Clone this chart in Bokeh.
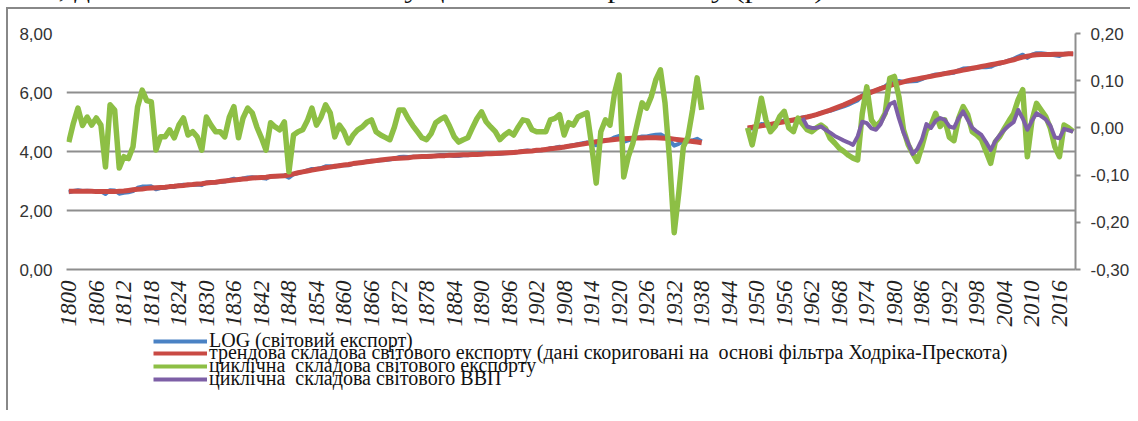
import math
from bokeh.plotting import figure
from bokeh.models import (Range1d, LinearAxis, FixedTicker, CustomJSTickFormatter,
                          Legend, LegendItem, Div)
from bokeh.layouts import column
from bokeh.embed import file_html
from bokeh.resources import INLINE

# ---------------- data ----------------
YEARS_A = list(range(1800, 1939))   # first period 1800-1938
YEARS_B = list(range(1948, 2020))   # second period 1948-2019
YEARS_GDP = list(range(1960, 2020))

TREND_A = [
    2.65, 2.65, 2.65, 2.65, 2.65, 2.65, 2.64, 2.64, 2.64, 2.64,
    2.64, 2.65, 2.66, 2.68, 2.70, 2.72, 2.73, 2.75, 2.76, 2.77,
    2.78, 2.79, 2.81, 2.82, 2.84, 2.85, 2.87, 2.88, 2.90, 2.91,
    2.93, 2.95, 2.96, 2.98, 3.00, 3.02, 3.03, 3.05, 3.07, 3.08,
    3.10, 3.11, 3.12, 3.13, 3.15, 3.16, 3.17, 3.18, 3.20, 3.24,
    3.28, 3.31, 3.34, 3.37, 3.40, 3.42, 3.45, 3.47, 3.50, 3.52,
    3.54, 3.56, 3.59, 3.61, 3.63, 3.65, 3.67, 3.69, 3.71, 3.73,
    3.75, 3.76, 3.77, 3.78, 3.79, 3.81, 3.82, 3.83, 3.83, 3.84,
    3.85, 3.86, 3.86, 3.87, 3.87, 3.88, 3.89, 3.89, 3.90, 3.90,
    3.91, 3.92, 3.92, 3.93, 3.94, 3.95, 3.96, 3.97, 3.98, 4.00,
    4.01, 4.02, 4.04, 4.05, 4.07, 4.09, 4.11, 4.13, 4.15, 4.18,
    4.20, 4.23, 4.25, 4.28, 4.30, 4.33, 4.35, 4.37, 4.39, 4.41,
    4.42, 4.43, 4.44, 4.45, 4.46, 4.46, 4.47, 4.47, 4.47, 4.46,
    4.45, 4.44, 4.42, 4.40, 4.38, 4.36, 4.34, 4.32, 4.30,
]
LOG_A = [
    2.62, 2.66, 2.69, 2.66, 2.67, 2.66, 2.66, 2.65, 2.56, 2.69,
    2.68, 2.57, 2.60, 2.62, 2.66, 2.77, 2.81, 2.81, 2.82, 2.72,
    2.76, 2.77, 2.81, 2.80, 2.85, 2.87, 2.86, 2.87, 2.88, 2.86,
    2.95, 2.96, 2.95, 2.97, 2.98, 3.04, 3.08, 3.03, 3.09, 3.12,
    3.13, 3.11, 3.10, 3.08, 3.16, 3.16, 3.17, 3.19, 3.11, 3.23,
    3.27, 3.31, 3.36, 3.41, 3.41, 3.44, 3.50, 3.50, 3.48, 3.53,
    3.53, 3.53, 3.58, 3.61, 3.63, 3.66, 3.69, 3.68, 3.70, 3.71,
    3.73, 3.76, 3.81, 3.82, 3.81, 3.82, 3.81, 3.81, 3.81, 3.83,
    3.86, 3.88, 3.88, 3.87, 3.85, 3.85, 3.87, 3.87, 3.90, 3.92,
    3.94, 3.93, 3.92, 3.92, 3.92, 3.94, 3.95, 3.96, 3.98, 4.02,
    4.03, 4.02, 4.03, 4.04, 4.06, 4.11, 4.13, 4.16, 4.14, 4.19,
    4.21, 4.25, 4.28, 4.31, 4.26, 4.21, 4.34, 4.39, 4.40, 4.48,
    4.53, 4.33, 4.38, 4.42, 4.47, 4.51, 4.51, 4.54, 4.57, 4.58,
    4.50, 4.37, 4.20, 4.26, 4.34, 4.34, 4.38, 4.43, 4.34,
]
CYCLE_EXP_A = [
    -0.030, 0.010, 0.042, 0.005, 0.023, 0.006, 0.021, 0.006, -0.083, 0.049,
    0.038, -0.085, -0.061, -0.065, -0.040, 0.045, 0.080, 0.058, 0.055, -0.047,
    -0.019, -0.019, -0.004, -0.021, 0.006, 0.021, -0.015, -0.008, -0.019, -0.047,
    0.023, 0.006, -0.008, -0.008, -0.019, 0.023, 0.045, -0.021, 0.021, 0.042,
    0.032, 0.002, -0.021, -0.047, 0.011, 0.002, -0.004, 0.013, -0.093, -0.015,
    -0.008, -0.004, 0.015, 0.042, 0.006, 0.023, 0.049, 0.032, -0.019, 0.006,
    -0.008, -0.032, -0.015, -0.004, 0.002, 0.012, 0.017, -0.008, -0.015, -0.020,
    -0.025, 0.002, 0.038, 0.038, 0.020, 0.005, -0.008, -0.021, -0.025, -0.012,
    0.011, 0.018, 0.023, 0.004, -0.018, -0.030, -0.025, -0.021, 0.000, 0.020,
    0.034, 0.013, 0.002, -0.008, -0.025, -0.015, -0.008, -0.015, 0.002, 0.017,
    0.015, -0.004, -0.008, -0.008, -0.008, 0.017, 0.020, 0.028, -0.015, 0.011,
    0.006, 0.023, 0.028, 0.032, -0.036, -0.117, -0.008, 0.017, 0.006, 0.074,
    0.112, -0.104, -0.061, -0.032, 0.011, 0.053, 0.042, 0.066, 0.102, 0.123,
    0.053, -0.068, -0.222, -0.138, -0.040, -0.019, 0.038, 0.106, 0.038,
]
TREND_B = [
    4.80, 4.82, 4.85, 4.87, 4.90, 4.92, 4.95, 4.98, 5.01, 5.04,
    5.07, 5.10, 5.14, 5.17, 5.21, 5.25, 5.30, 5.35, 5.40, 5.46,
    5.52, 5.58, 5.65, 5.72, 5.80, 5.87, 5.94, 6.01, 6.07, 6.13,
    6.18, 6.23, 6.28, 6.32, 6.36, 6.40, 6.43, 6.46, 6.49, 6.52,
    6.55, 6.58, 6.61, 6.64, 6.67, 6.70, 6.73, 6.76, 6.79, 6.82,
    6.85, 6.88, 6.91, 6.94, 6.97, 7.00, 7.03, 7.07, 7.11, 7.16,
    7.20, 7.23, 7.26, 7.28, 7.29, 7.29, 7.29, 7.30, 7.30, 7.30,
    7.31, 7.31,
]
LOG_B = [
    4.80, 4.78, 4.86, 4.93, 4.92, 4.91, 4.95, 5.00, 5.05, 5.04,
    5.06, 5.12, 5.15, 5.17, 5.20, 5.25, 5.31, 5.35, 5.38, 5.43,
    5.48, 5.53, 5.59, 5.66, 5.73, 5.90, 6.03, 6.03, 6.07, 6.14,
    6.21, 6.34, 6.39, 6.39, 6.36, 6.37, 6.38, 6.39, 6.45, 6.52,
    6.56, 6.61, 6.61, 6.66, 6.65, 6.67, 6.75, 6.81, 6.82, 6.81,
    6.84, 6.86, 6.86, 6.87, 6.94, 6.98, 7.03, 7.09, 7.14, 7.22,
    7.28, 7.17, 7.28, 7.33, 7.33, 7.31, 7.29, 7.26, 7.24, 7.31,
    7.31, 7.30,
]
CYCLE_EXP_B = [
    0.000, -0.036, 0.010, 0.063, 0.017, -0.008, 0.003, 0.024, 0.035, 0.000,
    -0.008, 0.021, 0.008, -0.004, -0.008, 0.000, 0.006, -0.001, -0.022, -0.032,
    -0.043, -0.050, -0.058, -0.064, -0.068, 0.030, 0.087, 0.017, 0.003, 0.013,
    0.031, 0.105, 0.109, 0.066, -0.004, -0.035, -0.054, -0.071, -0.040, -0.004,
    0.006, 0.031, 0.003, 0.017, -0.020, -0.027, 0.020, 0.045, 0.028, -0.008,
    -0.015, -0.025, -0.050, -0.075, -0.030, -0.018, -0.001, 0.015, 0.030, 0.060,
    0.081, -0.061, 0.015, 0.052, 0.038, 0.024, 0.000, -0.040, -0.061, 0.006,
    0.000, -0.008,
]
CYCLE_GDP = [
    0.021, 0.003, 0.000, 0.000, 0.003, -0.004, -0.010, -0.017, -0.022, -0.027,
    -0.031, -0.036, -0.018, 0.013, 0.010, -0.001, -0.004, 0.008, 0.030, 0.050,
    0.055, 0.020, -0.010, -0.032, -0.055, -0.045, -0.025, 0.008, 0.000, 0.015,
    0.021, 0.017, 0.003, 0.000, 0.020, 0.035, 0.017, 0.000, -0.008, -0.015,
    -0.030, -0.047, -0.028, -0.015, -0.004, 0.005, 0.012, 0.038, 0.020, -0.004,
    0.015, 0.031, 0.025, 0.018, 0.005, -0.020, -0.022, -0.002, -0.005, -0.008,
]

X_TICKS = [1800, 1806, 1812, 1818, 1824, 1830, 1836, 1842, 1848, 1854, 1860,
           1866, 1872, 1878, 1884, 1890, 1896, 1902, 1908, 1914, 1920, 1926,
           1932, 1938, 1944, 1950, 1956, 1962, 1968, 1974, 1980, 1986, 1992,
           1998, 2004, 2010, 2016]
LEFT_TICKS = [0, 2, 4, 6, 8]
RIGHT_TICKS = [-0.3, -0.2, -0.1, 0.0, 0.1, 0.2]

LEGEND_LABELS = [
    "LOG (світовий експорт)",
    "трендова складова світового експорту (дані скориговані на  основі фільтра Ходріка-Прескота)",
    "циклічна  складова світового експорту",
    "циклічна  складова світового ВВП",
]
TOP_TEXT = "ання, дозволяє визначити певну циклічність і розвитку (рис.2)."

# ---------------- styling ----------------
BLUE, RED, GREEN, PURPLE = "#4a82c4", "#c94a44", "#8dbf45", "#7d5fa6"
COLORS = [BLUE, RED, GREEN, PURPLE]
WIDTHS = [4, 5, 5.5, 4]
GRID = "#8e8e8e"
FRAME = "2px solid #888888"

nan = float("nan")
xs = YEARS_A + [nan] + YEARS_B
trend = TREND_A + [nan] + TREND_B
logv = LOG_A + [nan] + LOG_B
cyc = CYCLE_EXP_A + [nan] + CYCLE_EXP_B

p = figure(width=1124, height=322, output_backend="svg", toolbar_location=None,
           x_range=Range1d(1799.5, 2019.5), y_range=Range1d(0, 8),
           min_border_left=58, min_border_right=54, min_border_top=24,
           min_border_bottom=62)
p.extra_y_ranges = {"right": Range1d(-0.3, 0.2)}
p.outline_line_color = None
p.styles = {"border-left": FRAME, "border-top": FRAME, "margin-left": "6px"}

fmt = "return tick.toFixed(2).replace('.', ',');"

yl = p.yaxis[0]
yl.ticker = FixedTicker(ticks=LEFT_TICKS)
yl.formatter = CustomJSTickFormatter(code=fmt)
yl.axis_line_color = None
yl.major_tick_line_color = None
yl.major_tick_out = 0
yl.major_tick_in = 0
yl.minor_tick_line_color = None
yl.minor_tick_out = 0
yl.major_label_standoff = 14
yl.major_label_text_font = "Liberation Sans"
yl.major_label_text_font_size = "17px"
yl.major_label_text_color = "#333333"

yr = LinearAxis(y_range_name="right", ticker=FixedTicker(ticks=RIGHT_TICKS),
                formatter=CustomJSTickFormatter(code=fmt))
yr.axis_line_color = GRID
yr.axis_line_width = 2
yr.major_tick_in = 0
yr.major_tick_out = 5
yr.major_tick_line_color = GRID
yr.major_tick_line_width = 2
yr.minor_tick_line_color = None
yr.minor_tick_out = 0
yr.major_label_standoff = 10
yr.major_label_text_font = "Liberation Sans"
yr.major_label_text_font_size = "17px"
yr.major_label_text_color = "#333333"
p.add_layout(yr, "right")

xa = p.xaxis[0]
xa.ticker = FixedTicker(ticks=X_TICKS)
xa.major_label_orientation = math.pi / 2
xa.major_label_text_font = "Liberation Serif"
xa.major_label_text_font_style = "italic"
xa.major_label_text_font_size = "23px"
xa.major_label_text_color = "#222222"
xa.major_label_standoff = 11
xa.axis_line_color = GRID
xa.axis_line_width = 2
xa.major_tick_line_color = None
xa.major_tick_out = 0
xa.major_tick_in = 0
xa.minor_tick_line_color = None
xa.minor_tick_out = 0

p.xgrid.visible = False
p.ygrid.ticker = FixedTicker(ticks=LEFT_TICKS)
p.ygrid.grid_line_color = GRID
p.ygrid.grid_line_width = 2

p.line(xs, logv, line_color=BLUE, line_width=WIDTHS[0], line_join="round")
p.line(xs, trend, line_color=RED, line_width=WIDTHS[1], line_join="round")
p.line(xs, cyc, line_color=GREEN, line_width=WIDTHS[2], line_join="round",
       y_range_name="right")
p.line(YEARS_GDP, CYCLE_GDP, line_color=PURPLE, line_width=WIDTHS[3],
       line_join="round", y_range_name="right")

# ---------------- legend strip below the chart ----------------
lg = figure(width=1124, height=81, output_backend="svg", toolbar_location=None,
            x_range=Range1d(0, 1), y_range=Range1d(0, 1),
            x_axis_location=None, y_axis_location=None,
            min_border_left=0, min_border_right=0, min_border_top=0,
            min_border_bottom=0)
lg.grid.visible = False
lg.outline_line_color = None
lg.styles = {"border-left": FRAME, "margin-left": "6px"}

ROW_BOTTOMS = [58, 46, 33, 20]
for lab, col, vy in zip(LEGEND_LABELS, COLORS, ROW_BOTTOMS):
    r = lg.line([nan, nan], [nan, nan], line_color=col, line_width=4)
    leg = Legend(items=[LegendItem(label=lab, renderers=[r])],
                 location=(87, vy), padding=0, margin=0, spacing=0,
                 glyph_width=54, glyph_height=22, label_height=22,
                 label_standoff=2, border_line_color=None,
                 background_fill_alpha=0,
                 label_text_font="Liberation Serif",
                 label_text_font_size="20px", label_text_color="#111111")
    lg.add_layout(leg)

div = Div(text=('<div style="position:relative;left:-8px;width:1138px;height:10px;overflow:hidden;">'
                '<span style="position:absolute;left:0px;top:-19px;font-family:\'Liberation Serif\';'
                'font-size:26px;line-height:30px;white-space:nowrap;color:#111;'
                'transform:scaleX(1.2);transform-origin:0 0;display:inline-block;">'
                + TOP_TEXT + '</span></div>'),
          width=1130, height=10, styles={"margin-top": "-8px"})

layout = column(div, p, lg, spacing=0)
open("out.html", "w").write(file_html(layout, INLINE))
